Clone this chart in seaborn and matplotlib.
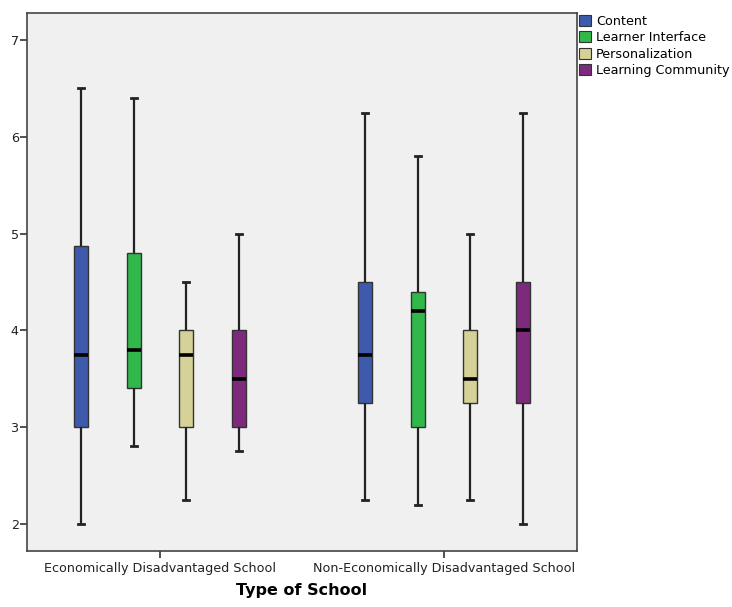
import numpy as np
import pandas as pd
import matplotlib
matplotlib.use("Agg")
import matplotlib.pyplot as plt
from matplotlib.patches import Patch
import seaborn as sns

# categories
schools = ["Economically Disadvantaged School", "Non-Economically Disadvantaged School"]
criteria = ["Content", "Learner Interface", "Personalization", "Learning Community"]
colors = ["#3D5AAD", "#31B84B", "#D5D197", "#7E2A7C"]

# five-number summaries: min, Q1, median, Q3, max
econ_content = [2.0, 3.0, 3.75, 4.875, 6.5]
econ_interface = [2.8, 3.4, 3.8, 4.8, 6.4]
econ_personal = [2.25, 3.0, 3.75, 4.0, 4.5]
econ_community = [2.75, 3.0, 3.5, 4.0, 5.0]

nonecon_content = [2.25, 3.25, 3.75, 4.5, 6.25]
nonecon_interface = [2.2, 3.0, 4.2, 4.4, 5.8]
nonecon_personal = [2.25, 3.25, 3.5, 4.0, 5.0]
nonecon_community = [2.0, 3.25, 4.0, 4.5, 6.25]

summaries = {
    schools[0]: [econ_content, econ_interface, econ_personal, econ_community],
    schools[1]: [nonecon_content, nonecon_interface, nonecon_personal, nonecon_community],
}

# long table, one row per value (5 values -> quartiles land exactly on Q1/median/Q3)
rows = []
for school, lists in summaries.items():
    for crit, vals in zip(criteria, lists):
        for v in vals:
            rows.append({"school": school, "criterion": crit, "score": v})
df = pd.DataFrame(rows)

fig = plt.figure(figsize=(7.32, 6.07), dpi=100)
ax = fig.add_axes([27 / 732, 1 - 551 / 607, 550 / 732, 538 / 607])
ax.set_facecolor("#F0F0F0")

sns.boxplot(
    data=df, x="school", y="score", hue="criterion",
    order=schools, hue_order=criteria, palette=colors, saturation=1,
    width=0.742, gap=0.735, whis=(0, 100), linewidth=1.0, linecolor="#333333",
    medianprops={"color": "black", "linewidth": 2.6},
    whiskerprops={"color": "#222222", "linewidth": 1.6},
    capprops={"color": "#222222", "linewidth": 2.0},
    legend=False, ax=ax,
)

# shorter caps, like the original (caps are the short horizontal lines)
for line in ax.lines:
    xd = np.asarray(line.get_xdata(), dtype=float)
    yd = np.asarray(line.get_ydata(), dtype=float)
    if len(xd) == 2 and yd[0] == yd[1] and abs(xd[1] - xd[0]) < 0.035:
        mid = (xd[0] + xd[1]) / 2
        line.set_xdata([mid - 0.0105, mid + 0.0105])

ax.set_xlim(-0.468, 1.468)
ax.set_ylim(1.72, 7.28)
ax.set_yticks([2, 3, 4, 5, 6, 7])
ax.tick_params(axis="both", direction="out", length=5, width=1.2, color="#333333",
               labelsize=9.2, labelcolor="#222222")
ax.tick_params(axis="y", pad=1)
ax.tick_params(axis="x", pad=3)
for side in ["left", "right", "top", "bottom"]:
    ax.spines[side].set_color("#444444")
    ax.spines[side].set_linewidth(1.2)

ax.set_ylabel("")
ax.set_xlabel("Type of School", fontsize=11.5, fontweight="bold", labelpad=6)

handles = [Patch(facecolor=c, edgecolor="#333333", linewidth=0.8, label=l)
           for c, l in zip(colors, criteria)]
ax.legend(handles=handles, loc="upper left", bbox_to_anchor=(1.004, 0.996),
          frameon=False, fontsize=9.2, handlelength=0.95, handleheight=0.95,
          handletextpad=0.35, labelspacing=0.25, borderaxespad=0, borderpad=0)

fig.savefig("out.png", dpi=100)
